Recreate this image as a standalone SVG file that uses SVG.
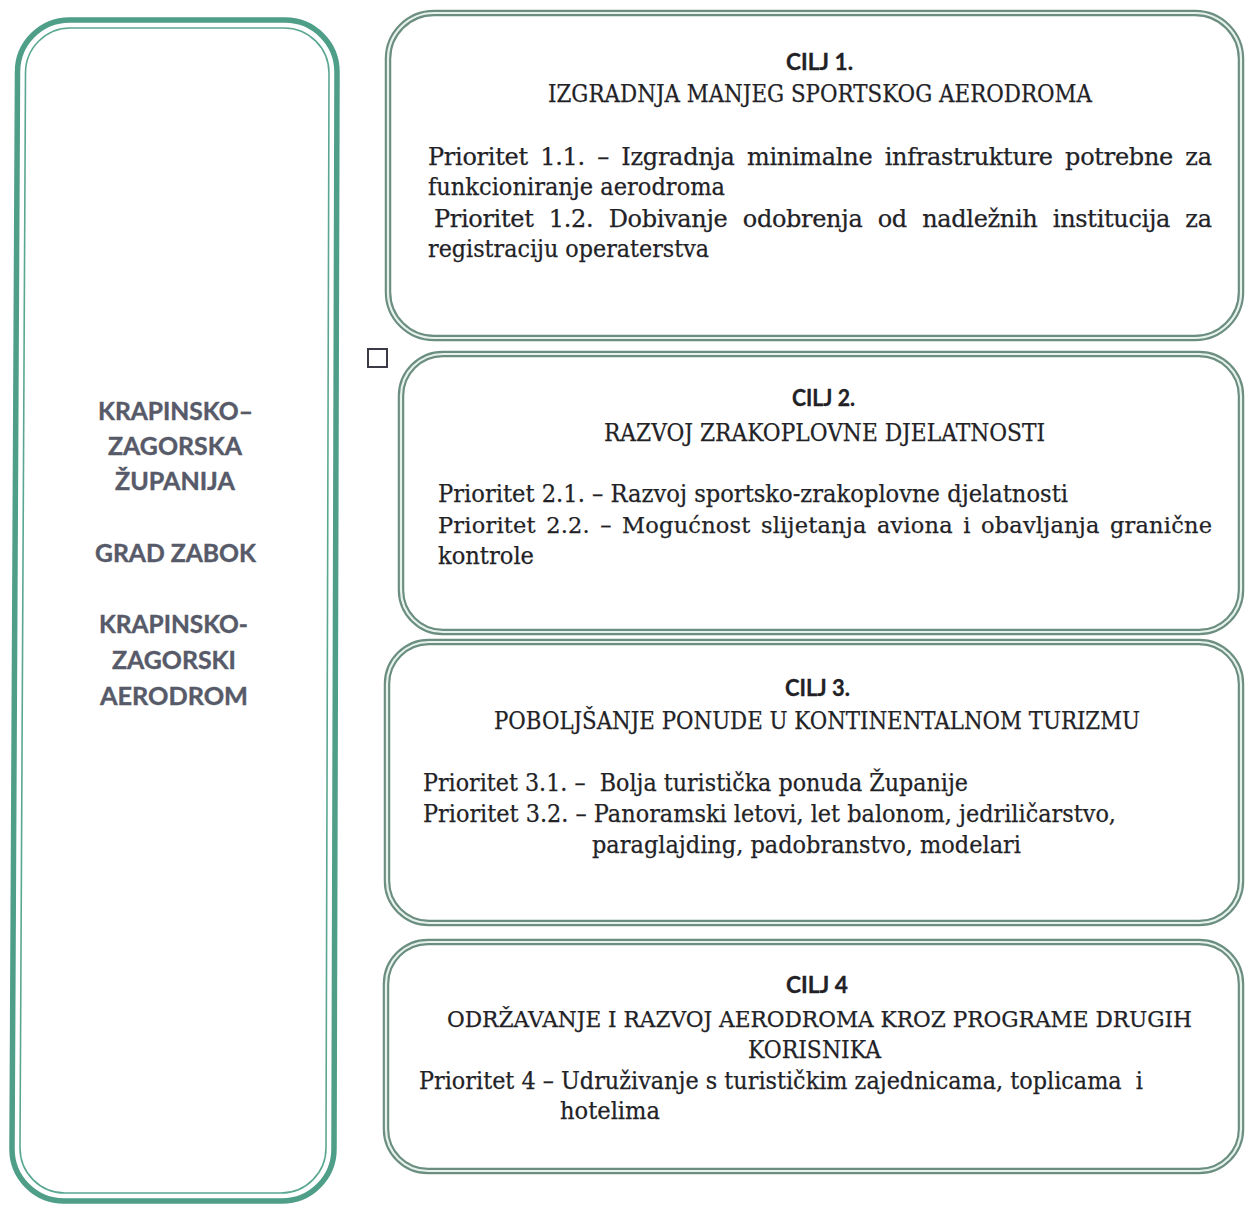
<svg xmlns="http://www.w3.org/2000/svg" width="1246" height="1205" viewBox="0 0 1246 1205">
<style>
.bg{fill:#ffffff}
.lframe{fill:none;stroke:#4f9e88;stroke-width:5.5}
.lframe2{fill:none;stroke:#5aa791;stroke-width:1.6}
.dbl{fill:none;stroke:#6c8e80;stroke-width:6.5}
.dblin{fill:none;stroke:#e6f3ed;stroke-width:2.2}
.side{font-family:Lato,"Liberation Sans","DejaVu Sans",sans-serif;font-weight:bold;font-size:25px;fill:#575a68;stroke:#575a68;stroke-width:0.4}
.head{font-family:Lato,"Liberation Sans","DejaVu Sans",sans-serif;font-weight:bold;font-size:23px;fill:#222226;stroke:#222226;stroke-width:0.3}
.ser{font-family:"DejaVu Serif","Liberation Serif",serif;font-size:24px;fill:#222226;stroke:#222226;stroke-width:0.25}
.sm{font-size:22.5px}
.sq{fill:#ffffff;stroke:#3b3b48;stroke-width:2}
</style>
<rect class="bg" x="0" y="0" width="1246" height="1205"/>

<g id="node-left">
<path class="lframe" d="M 70,20 H 285 A 52 52 0 0 1 337,72 L 334,1149 A 52 52 0 0 1 282,1201 H 64 A 52 52 0 0 1 12,1149 L 17.5,72 A 52 52 0 0 1 70,20 Z"/>
<path class="lframe2" d="M 71,28 H 284 A 45 45 0 0 1 329,73 L 326,1148 A 45 45 0 0 1 281,1193 H 65 A 45 45 0 0 1 20,1148 L 25.5,73 A 45 45 0 0 1 71,28 Z"/>
<text class="side" x="98" y="420" textLength="155" lengthAdjust="spacingAndGlyphs">KRAPINSKO–</text>
<text class="side" x="108" y="455" textLength="134" lengthAdjust="spacingAndGlyphs">ZAGORSKA</text>
<text class="side" x="115" y="490" textLength="120" lengthAdjust="spacingAndGlyphs">ŽUPANIJA</text>
<text class="side" x="95" y="562" textLength="161" lengthAdjust="spacingAndGlyphs">GRAD ZABOK</text>
<text class="side" x="99" y="633" textLength="149" lengthAdjust="spacingAndGlyphs">KRAPINSKO-</text>
<text class="side" x="112" y="669" textLength="124" lengthAdjust="spacingAndGlyphs">ZAGORSKI</text>
<text class="side" x="100" y="705" textLength="148" lengthAdjust="spacingAndGlyphs">AERODROM</text>
</g>

<g id="marker-square">
<rect class="sq" x="368" y="349" width="19" height="18"/>
</g>

<g id="node-cilj1">
<rect class="dbl" x="388" y="13" width="853" height="325" rx="46" ry="46"/>
<rect class="dblin" x="388" y="13" width="853" height="325" rx="46" ry="46"/>
<text class="head" x="786" y="70" textLength="67" lengthAdjust="spacingAndGlyphs">CILJ 1.</text>
<text class="ser" x="548" y="102" textLength="544" lengthAdjust="spacingAndGlyphs">IZGRADNJA MANJEG SPORTSKOG AERODROMA</text>
<text class="ser" x="428" y="165" textLength="784" lengthAdjust="spacing" word-spacing="5">Prioritet 1.1. – Izgradnja minimalne infrastrukture potrebne za</text>
<text class="ser" x="428" y="195" textLength="297" lengthAdjust="spacingAndGlyphs">funkcioniranje aerodroma</text>
<text class="ser" x="434" y="227" textLength="778" lengthAdjust="spacing" word-spacing="8">Prioritet 1.2. Dobivanje odobrenja od nadležnih institucija za</text>
<text class="ser" x="428" y="257" textLength="281" lengthAdjust="spacingAndGlyphs">registraciju operaterstva</text>
</g>

<g id="node-cilj2">
<rect class="dbl" x="401" y="354" width="840" height="278" rx="42" ry="42"/>
<rect class="dblin" x="401" y="354" width="840" height="278" rx="42" ry="42"/>
<text class="head" x="792" y="406" textLength="63" lengthAdjust="spacingAndGlyphs">CILJ 2.</text>
<text class="ser" x="604" y="441" textLength="441" lengthAdjust="spacingAndGlyphs">RAZVOJ ZRAKOPLOVNE DJELATNOSTI</text>
<text class="ser" x="438" y="502" textLength="630" lengthAdjust="spacingAndGlyphs">Prioritet 2.1. – Razvoj sportsko-zrakoplovne djelatnosti</text>
<text class="ser sm" x="438" y="533" textLength="774" lengthAdjust="spacing" word-spacing="3">Prioritet 2.2. – Mogućnost slijetanja aviona i obavljanja granične</text>
<text class="ser" x="438" y="564" textLength="96" lengthAdjust="spacingAndGlyphs">kontrole</text>
</g>

<g id="node-cilj3">
<rect class="dbl" x="387" y="642" width="854" height="281" rx="42" ry="42"/>
<rect class="dblin" x="387" y="642" width="854" height="281" rx="42" ry="42"/>
<text class="head" x="785" y="696" textLength="65" lengthAdjust="spacingAndGlyphs">CILJ 3.</text>
<text class="ser" x="494" y="729" textLength="646" lengthAdjust="spacingAndGlyphs">POBOLJŠANJE PONUDE U KONTINENTALNOM TURIZMU</text>
<text class="ser" x="423" y="791" textLength="545" lengthAdjust="spacingAndGlyphs" xml:space="preserve">Prioritet 3.1. –  Bolja turistička ponuda Županije</text>
<text class="ser" x="423" y="822" textLength="693" lengthAdjust="spacingAndGlyphs">Prioritet 3.2. – Panoramski letovi, let balonom, jedriličarstvo,</text>
<text class="ser" x="592" y="853" textLength="429" lengthAdjust="spacingAndGlyphs">paraglajding, padobranstvo, modelari</text>
</g>

<g id="node-cilj4">
<rect class="dbl" x="386" y="942" width="855" height="229" rx="42" ry="42"/>
<rect class="dblin" x="386" y="942" width="855" height="229" rx="42" ry="42"/>
<text class="head" x="786" y="993" textLength="62" lengthAdjust="spacingAndGlyphs">CILJ 4</text>
<text class="ser sm" x="447" y="1027" textLength="745" lengthAdjust="spacingAndGlyphs">ODRŽAVANJE I RAZVOJ AERODROMA KROZ PROGRAME DRUGIH</text>
<text class="ser" x="748" y="1058" textLength="133" lengthAdjust="spacingAndGlyphs">KORISNIKA</text>
<text class="ser" x="419" y="1089" textLength="724" lengthAdjust="spacingAndGlyphs" xml:space="preserve">Prioritet 4 – Udruživanje s turističkim zajednicama, toplicama  i</text>
<text class="ser" x="560" y="1119" textLength="100" lengthAdjust="spacingAndGlyphs">hotelima</text>
</g>

<g id="connectors"></g>
</svg>
